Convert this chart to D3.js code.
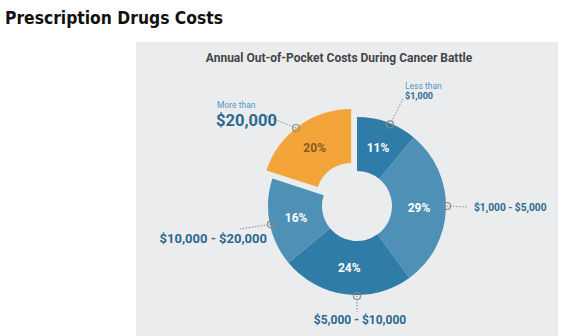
<!DOCTYPE html>
<html><head><meta charset="utf-8">
<script src="https://cdn.jsdelivr.net/npm/d3@7"></script>
<style>
body{margin:0;background:#fff;}
svg{display:block;}
</style></head>
<body>
<svg id="chart" width="582" height="336"></svg>
<script>
const title = "Prescription Drugs Costs";
const subtitle = "Annual Out-of-Pocket Costs During Cancer Battle";
const categories = ["Less than $1,000", "$1,000 - $5,000", "$5,000 - $10,000", "$10,000 - $20,000", "More than $20,000"];
const values = [11, 29, 24, 16, 20];
const sliceColors = ["#2f7ca8", "#4f90b7", "#2f7ca8", "#4f90b7", "#f3a53a"];
const pctColors = ["#ffffff", "#ffffff", "#ffffff", "#ffffff", "#8b5a1e"];

const svg = d3.select("#chart");
svg.append("text").attr("x", 5).attr("y", 24)
  .attr("font-family", "'Liberation Sans Narrow','DejaVu Sans Condensed',Roboto,sans-serif")
  .attr("font-weight", "bold").attr("font-size", 18.5).attr("fill", "#111")
  .attr("textLength", 218).attr("lengthAdjust", "spacingAndGlyphs")
  .text(title);

svg.append("rect").attr("x", 136).attr("y", 42).attr("width", 422).attr("height", 300).attr("fill", "#ebecee");

svg.append("text").attr("x", 339).attr("y", 62).attr("text-anchor", "middle")
  .attr("font-family", "Roboto,sans-serif").attr("font-weight", "bold").attr("font-size", 12)
  .attr("fill", "#454545").text(subtitle);

const cx = 357, cy = 206, rIn = 35, rOut = 89, explode = 10;
const pie = d3.pie().sort(null).value(d => d);
const arcs = pie(values);
const arc = d3.arc().innerRadius(rIn).outerRadius(rOut);
const lblArc = d3.arc().innerRadius(62).outerRadius(62);

const g = svg.append("g").attr("transform", `translate(${cx},${cy})`);
const off = (d, i) => {
  if (i !== 4) return [0, 0];
  const a = (d.startAngle + d.endAngle) / 2;
  return [Math.sin(a) * explode, -Math.cos(a) * explode];
};
g.selectAll("path").data(arcs).enter().append("path")
  .attr("d", arc)
  .attr("transform", (d, i) => `translate(${off(d, i)})`)
  .attr("fill", (d, i) => sliceColors[i]);

g.selectAll("text.pct").data(arcs).enter().append("text")
  .attr("class", "pct")
  .attr("transform", (d, i) => { const c = lblArc.centroid(d); const o = off(d, i); return `translate(${c[0] + o[0]},${c[1] + o[1] + 4})`; })
  .attr("text-anchor", "middle")
  .attr("font-family", "Roboto,sans-serif").attr("font-weight", "bold").attr("font-size", 12)
  .attr("fill", (d, i) => pctColors[i])
  .text(d => d.value + "%");

// label markers: angle (deg from top) on outer edge, leader end, text
const markerAngles = [22, 90, 180, 258, 322];
const leaderEnds = [[46, -107], [111, 1], [0, 106], [-117, 23], [-95, -92]];
const markerR = [88, 90, 90, 88, 99];
markerAngles.forEach((a, i) => {
  const rad = a * Math.PI / 180;
  const mx = Math.sin(rad) * markerR[i], my = -Math.cos(rad) * markerR[i];
  g.append("line").attr("x1", mx).attr("y1", my).attr("x2", leaderEnds[i][0]).attr("y2", leaderEnds[i][1])
    .attr("stroke", "#8a8a8a").attr("stroke-width", 1).attr("stroke-dasharray", "1.5,1.5");
  g.append("circle").attr("cx", mx).attr("cy", my).attr("r", 3.5)
    .attr("fill", "none").attr("stroke", "#8a8a8a").attr("stroke-width", 1.2);
});

const lab = "#2b6a90", labLight = "#5a96bf";
const font = "Roboto,sans-serif";
function t(x, y, s, size, weight, color, anchor) {
  svg.append("text").attr("x", x).attr("y", y).attr("font-family", font).attr("font-size", size)
    .attr("font-weight", weight).attr("fill", color).attr("text-anchor", anchor || "start").text(s);
}
t(405, 89, "Less than", 8.5, "normal", labLight);
t(405, 99, "$1,000", 9, "bold", lab);
t(474, 211, "$1,000 - $5,000", 10.2, "bold", lab);
t(360, 324, "$5,000 - $10,000", 12, "bold", lab, "middle");
t(267, 243, "$10,000 - $20,000", 13, "bold", lab, "end");
t(217, 108, "More than", 8.5, "normal", labLight);
t(216, 126, "$20,000", 16.5, "bold", lab);
</script>
</body></html>
